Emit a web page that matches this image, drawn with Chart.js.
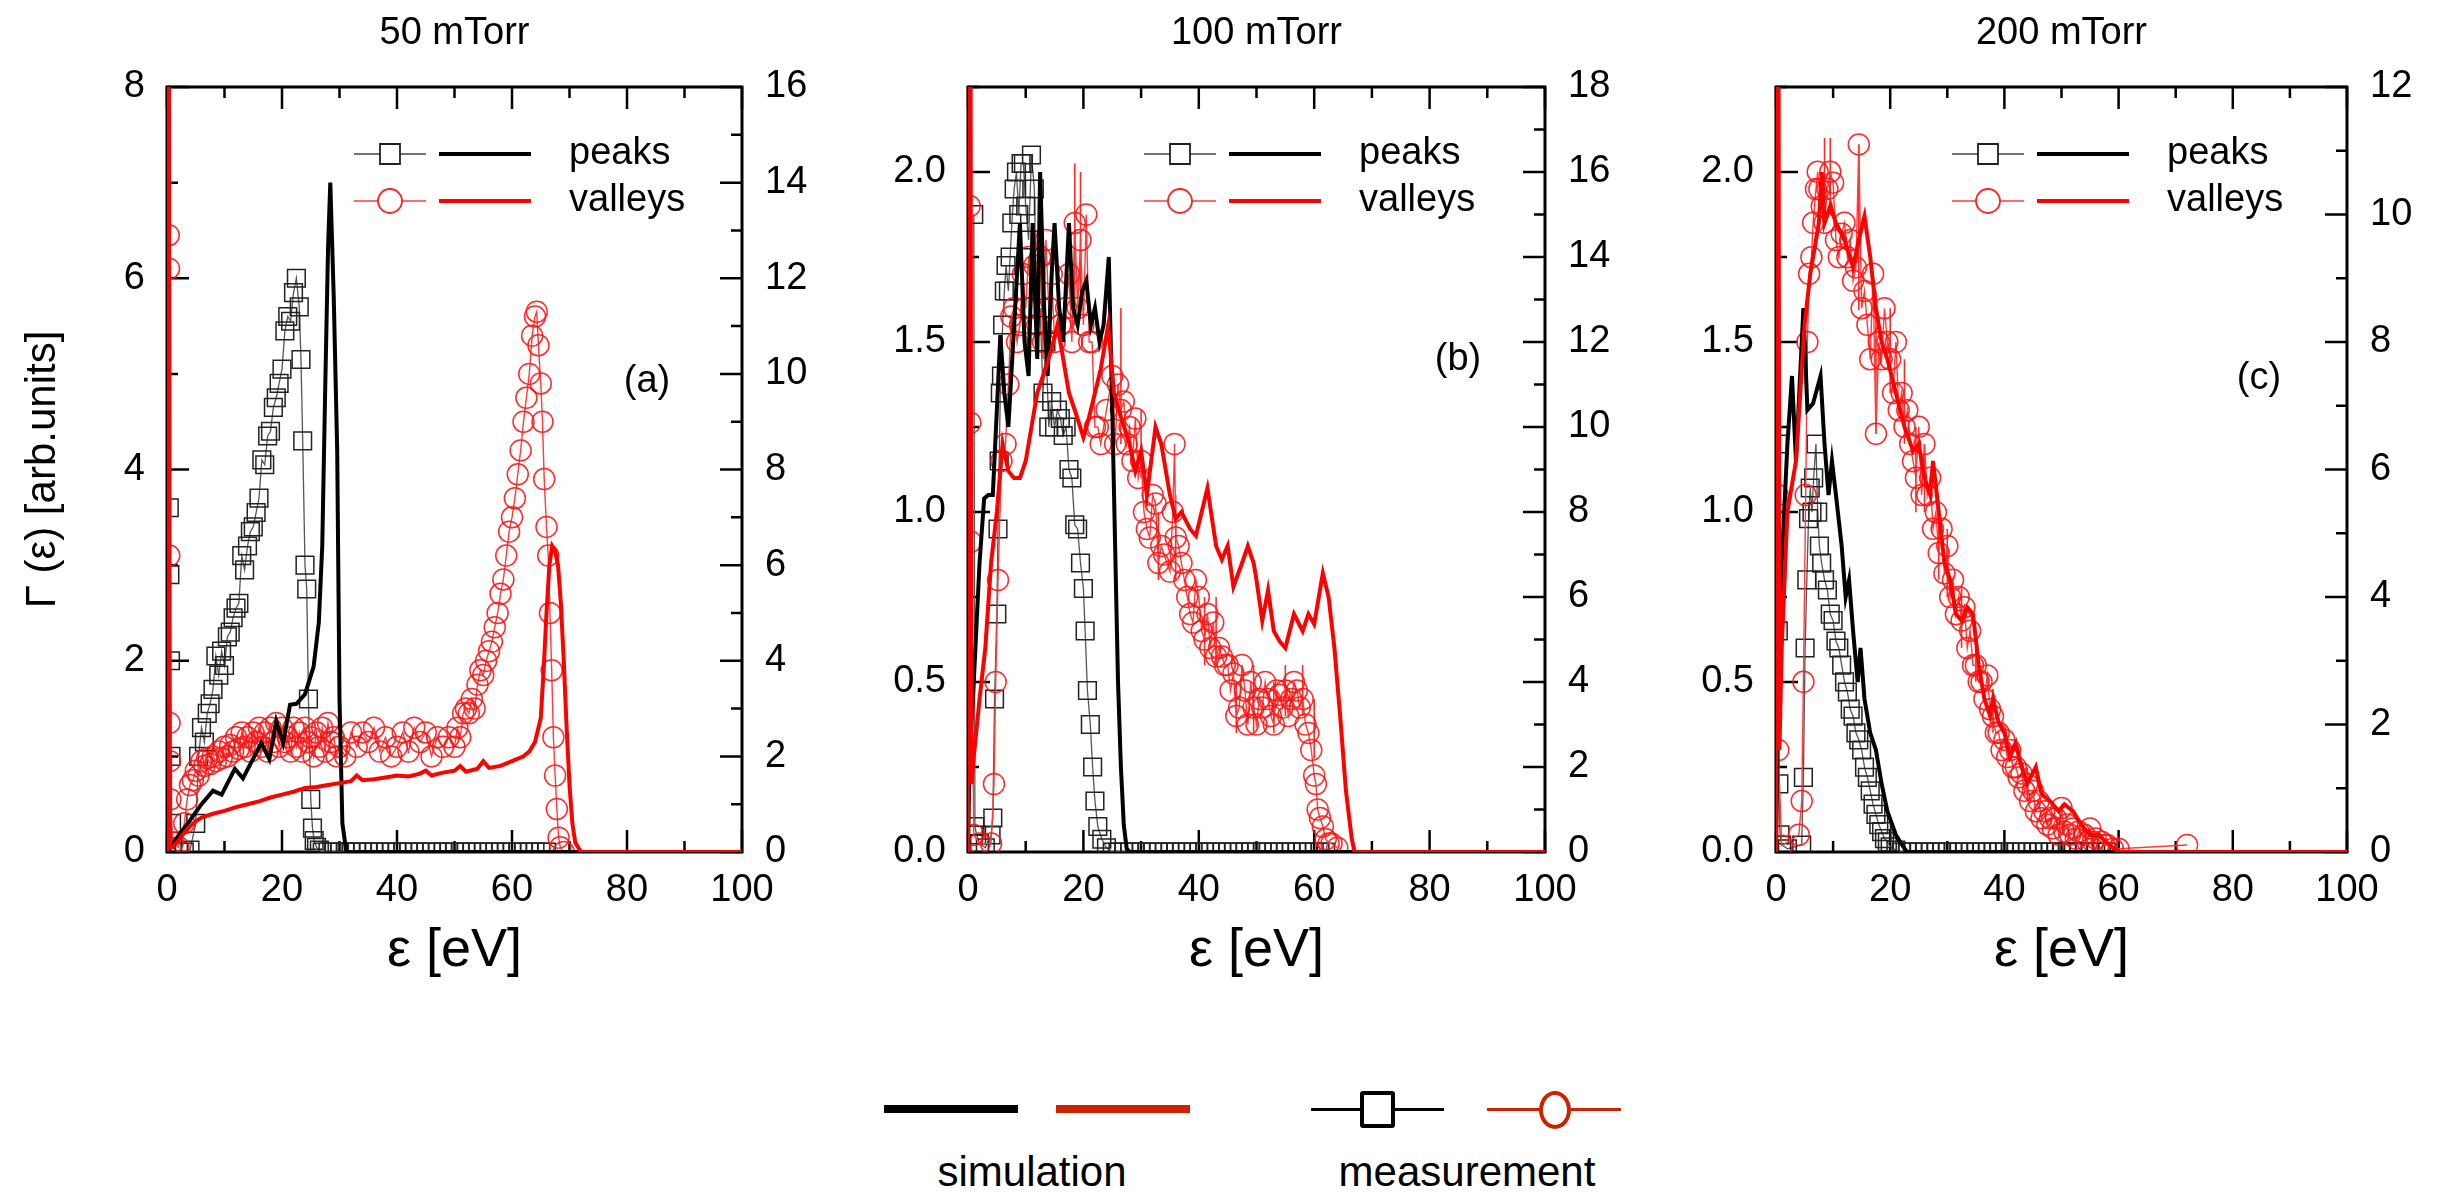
<!DOCTYPE html>
<html>
<head>
<meta charset="utf-8">
<script src="https://cdn.jsdelivr.net/npm/chart.js@4.4.1/dist/chart.umd.min.js"></script>
<style>
  body { margin: 0; background: #fff; width: 2438px; height: 1192px; overflow: hidden; position: relative;
         font-family: "Liberation Sans", Arial, sans-serif; }
  canvas { position: absolute; top: 0; }
  .bar { position: absolute; height: 8px; }
  .thin { position: absolute; height: 3px; }
  .lab { position: absolute; font-size: 42px; line-height: 42px; color: #000; transform: translateX(-50%); white-space: nowrap; }
</style>
</head>
<body>
<canvas id="pa" width="840" height="1000" style="left:0"></canvas>
<canvas id="pb" width="810" height="1000" style="left:840px"></canvas>
<canvas id="pc" width="788" height="1000" style="left:1650px"></canvas>

<!-- bottom legend -->
<div class="bar" style="left:884px;top:1105px;width:134px;background:#000"></div>
<div class="bar" style="left:1056px;top:1105px;width:134px;background:#cc2200"></div>
<div class="thin" style="left:1311px;top:1108px;width:133px;background:#000"></div>
<div style="position:absolute;left:1360px;top:1091px;width:27px;height:29px;border:4px solid #000;border-radius:3px;background:#fff"></div>
<div class="thin" style="left:1487px;top:1108px;width:134px;background:#cc2200"></div>
<div style="position:absolute;left:1539px;top:1091px;width:24px;height:30px;border:4px solid #cc2200;border-radius:50%;background:#fff"></div>
<div class="lab" style="left:1032px;top:1151px">simulation</div>
<div class="lab" style="left:1467px;top:1151px">measurement</div>

<script>
// ---- labels ----
const panelTitles = ['50 mTorr', '100 mTorr', '200 mTorr'];
const panelTags = ['(a)', '(b)', '(c)'];
const legendNames = ['peaks', 'valleys'];
const xTitle = 'ε [eV]';
const yTitle = 'Γ (ε) [arb.units]';

// ---- tick values ----
const xTicks = [0, 20, 40, 60, 80, 100];
const leftTicksA = [0, 2, 4, 6, 8];
const rightTicksA = [0, 2, 4, 6, 8, 10, 12, 14, 16];
const leftTicksBC = [0, 0.5, 1.0, 1.5, 2.0];
const rightTicksB = [0, 2, 4, 6, 8, 10, 12, 14, 16, 18];
const rightTicksC = [0, 2, 4, 6, 8, 10, 12];

// ================= (a) 50 mTorr =================
// simulation (left axis)
const simPeaksAX = [0, 2, 4, 6, 8, 9.5, 11.8, 13.2, 16.4, 17.8, 19, 20.2, 21.4, 22.5, 24, 25.5, 26.4, 27, 27.5, 28, 28.4, 29, 29.6, 30, 30.5, 31.2, 100];
const simPeaksAY = [0, 0.17, 0.33, 0.5, 0.64, 0.6, 0.87, 0.77, 1.14, 0.97, 1.37, 1.14, 1.54, 1.55, 1.65, 1.94, 2.4, 3.2, 4.8, 6.3, 7.0, 5.8, 4.2, 1.6, 0.3, 0, 0];
const simValleysAX = [0, 0.3, 0.5, 1, 2, 3, 4, 5, 6, 8,
  10, 12, 14, 16, 18, 20, 22, 24, 26, 28,
  30, 32, 33, 34, 36, 38, 40, 42, 44, 45,
  46, 48, 50, 51, 52, 54, 55, 56, 58, 60,
  62, 63, 64, 65, 65.5, 66, 66.5, 67, 67.5, 68,
  68.5, 69, 69.5, 70, 70.5, 71, 72, 100];
const simValleysAY = [0, 10, 0.05, 0.05, 0.12, 0.2, 0.27, 0.32, 0.36, 0.4,
  0.43, 0.47, 0.5, 0.53, 0.57, 0.6, 0.63, 0.67, 0.68, 0.7,
  0.72, 0.74, 0.8, 0.75, 0.76, 0.78, 0.8, 0.79, 0.82, 0.85,
  0.8, 0.83, 0.85, 0.9, 0.84, 0.87, 0.95, 0.88, 0.9, 0.95,
  1.0, 1.05, 1.15, 1.4, 1.9, 2.5, 3.0, 3.2, 3.15, 3.0,
  2.6, 2.0, 1.3, 0.7, 0.3, 0.1, 0, 0];
// measurement (right axis)
const measPeaksAX = [0.4, 0.5, 0.6, 0.7, 0.8, 1, 2, 3, 4, 5,
  5.5, 6, 6.5, 7, 7.5, 8, 8.5, 9, 9.5, 10,
  10.5, 11, 11.5, 12, 12.5, 13, 13.5, 14, 14.5, 15,
  15.5, 16, 16.5, 17, 17.5, 18, 18.5, 19, 19.5, 20,
  20.5, 21, 21.5, 22, 22.5, 23, 23.3, 23.6, 24, 24.3,
  24.6, 25, 25.3, 25.6, 26, 26.5,
  27, 28, 29, 30, 31, 32, 33, 34, 35, 36, 37, 38, 39, 40, 41, 42, 43, 44, 45, 46,
  47, 48, 49, 50, 51, 52, 53, 54, 55, 56, 57, 58, 59, 60, 61, 62, 63, 64, 65, 66];
const measPeaksAY = [7.2, 5.8, 4.0, 2.0, 0.6, 0.1, 0, 0, 0.04, 0.6,
  2.0, 2.6, 2.3, 2.9, 3.1, 3.4, 4.1, 3.7, 4.2, 3.9,
  4.5, 4.6, 4.9, 5.1, 5.2, 6.2, 5.9, 6.4, 6.7, 6.8,
  7.1, 7.4, 8.2, 8.1, 8.7, 8.8, 9.3, 9.5, 9.8, 10.1,
  10.9, 11.2, 11.1, 11.7, 12.0, 11.4, 10.3, 8.6, 6.0, 5.5,
  3.2, 1.1, 0.5, 0.24, 0.1, 0.04,
  0, 0, 0, 0, 0, 0, 0, 0, 0, 0, 0, 0, 0, 0, 0, 0, 0, 0, 0, 0,
  0, 0, 0, 0, 0, 0, 0, 0, 0, 0, 0, 0, 0, 0, 0, 0, 0, 0, 0, 0];
const measValleysAX = [0.3, 0.35, 0.4, 0.45, 0.5, 0.6, 1, 2, 3, 3.5,
  4, 4.5, 5, 5.5, 6, 6.5, 7, 7.5, 8, 8.5,
  9, 9.5, 10, 10.5, 11, 11.5, 12, 12.5, 13, 13.5,
  14, 14.5, 15, 15.5, 16, 16.5, 17, 17.5, 18, 18.5,
  19, 19.5, 20, 20.5, 21, 21.5, 22, 22.5, 23, 23.5,
  24, 24.5, 25, 25.5, 26, 26.5, 27, 27.5, 28, 28.5,
  29, 29.5, 30, 31, 32, 33, 34, 35, 36, 37,
  38, 39, 40, 41, 42, 43, 44, 45, 46, 47,
  48, 49, 50, 50.5, 51, 51.5, 52, 52.5, 53, 53.5,
  54, 54.5, 55, 55.5, 56, 56.5, 57, 57.5, 58, 58.5,
  59, 59.5, 60, 60.5, 61, 61.5, 62, 62.5, 63, 63.5,
  64, 64.3, 64.6, 65, 65.3, 65.6, 66, 66.3, 66.6, 66.9,
  67.2, 67.5, 67.8, 68.1, 68.4, 69];
const measValleysAY = [12.9, 12.2, 6.2, 2.7, 1.9, 1.1, 0.2, 0.1, 0.6, 1.1,
  1.4, 1.5, 1.7, 1.6, 1.9, 1.8, 1.96, 1.84, 2.0, 1.9,
  2.1, 1.96, 2.2, 2.0, 2.24, 2.1, 2.4, 2.16, 2.5, 2.2,
  2.4, 2.1, 2.5, 2.3, 2.6, 2.2, 2.5, 2.1, 2.6, 2.3,
  2.7, 2.2, 2.6, 2.3, 2.4, 2.1, 2.6, 2.2, 2.5, 2.1,
  2.6, 2.3, 2.4, 2.0, 2.5, 2.2, 2.6, 2.1, 2.7, 2.3,
  2.4, 2.0, 2.2, 2.0, 2.5, 2.2, 2.5, 2.3, 2.6, 2.1,
  2.4, 2.0, 2.2, 2.5, 2.1, 2.6, 2.3, 2.5, 2.0, 2.4,
  2.2, 2.4, 2.2, 2.6, 2.4, 2.9, 3.0, 2.9, 3.2, 3.0,
  3.5, 3.8, 3.7, 4.0, 4.2, 4.4, 4.7, 5.0, 5.4, 5.7,
  6.2, 6.7, 7.0, 7.4, 7.9, 8.4, 9.0, 9.5, 10.0, 10.8,
  11.2, 11.3, 10.6, 9.8, 9.0, 7.8, 6.8, 6.2, 5.0, 3.8,
  2.4, 1.6, 0.9, 0.3, 0.1, 0];
const errAX = [];
const errALo = [];
const errAHi = [];

// ================= (b) 100 mTorr =================
const simPeaksBX = [0, 0.3, 1, 2, 2.8, 3.5, 4.3, 5, 5.6, 6.3,
  7, 8, 9, 9.8, 10.5, 11.2, 12, 12.5, 13.2, 13.8,
  14.5, 15, 15.8, 16.5, 17.5, 18.2, 19, 19.8, 20.5, 21.3,
  22, 22.8, 23.5, 24.4, 25, 25.5, 26, 26.5, 27, 27.5,
  28, 100];
const simPeaksBY = [0, 0.3, 0.5, 0.85, 1.04, 1.05, 1.05, 1.3, 1.52, 1.35,
  1.25, 1.55, 1.85, 1.5, 1.4, 1.85, 1.45, 2.0, 1.6, 1.4,
  1.7, 1.85, 1.6, 1.5, 1.85, 1.6, 1.55, 1.65, 1.68, 1.55,
  1.6, 1.5, 1.55, 1.75, 1.3, 0.9, 0.5, 0.25, 0.08, 0.01,
  0, 0];
const simValleysBX = [0, 0.4, 0.6, 1, 2, 3, 4, 5, 6, 7,
  8, 9, 10, 11, 12, 13, 14.5, 15.5, 16.5, 17.5,
  18.5, 20, 21, 22, 23, 24.3, 25.3, 26.5, 28, 29,
  30, 31, 32.5, 33.5, 35, 36, 37, 38.5, 39.5, 41.5,
  43, 44, 45, 46, 47.5, 48.5, 49.5, 50, 51, 52,
  53, 54, 55, 56.5, 58, 59, 60, 61.5, 62.5, 63.5,
  64.5, 65.5, 66.5, 67, 100];
const simValleysBY = [0, 3.0, 0.2, 0.28, 0.45, 0.6, 0.85, 1.0, 1.2, 1.12,
  1.1, 1.1, 1.15, 1.25, 1.35, 1.4, 1.48, 1.55, 1.45, 1.35,
  1.3, 1.22, 1.28, 1.35, 1.42, 1.55, 1.35, 1.28, 1.2, 1.12,
  1.18, 1.05, 1.25, 1.2, 1.05, 0.98, 1.0, 0.95, 0.93, 1.07,
  0.9, 0.86, 0.9, 0.78, 0.85, 0.9, 0.85, 0.8, 0.68, 0.77,
  0.65, 0.62, 0.6, 0.7, 0.65, 0.7, 0.67, 0.82, 0.75, 0.6,
  0.4, 0.18, 0.04, 0, 0];
const measPeaksBX = [1.0, 1.2, 1.5, 2, 3, 4, 4.3, 4.6, 5, 5.2,
  5.4, 5.6, 5.8, 6, 6.3, 6.6, 7, 7.3, 7.6, 8,
  8.4, 8.8, 9.2, 9.6, 10, 10.5, 11, 11.5, 12, 12.5,
  13, 13.5, 14, 14.5, 15, 15.5, 16, 16.5, 17, 17.5,
  18, 18.5, 19, 19.5, 20, 20.3, 20.7, 21.2, 21.6, 22,
  22.5, 23.2, 24,
  25, 26, 27, 28, 29, 30, 31, 32, 33, 34, 35, 36, 37, 38, 39, 40, 41, 42, 43,
  44, 45, 46, 47, 48, 49, 50, 51, 52, 53, 54, 55, 56, 57, 58, 59, 60, 61, 62];
const measPeaksBY = [15.0, 0.6, 0.4, 0.2, 0.1, 0.4, 0.8, 3.6, 5.6, 7.6,
  9.2, 10.8, 11.2, 12.4, 13.2, 13.8, 13.2, 14.0, 14.8, 15.6,
  16.0, 15.0, 16.2, 16.2, 15.2, 14.4, 16.4, 15.6, 12.0, 12.8,
  10.8, 12.0, 10.0, 10.6, 10.0, 10.4, 10.2, 9.8, 10.0, 9.0,
  8.8, 7.7, 7.6, 6.8, 6.2, 5.2, 3.8, 3.0, 2.0, 1.2,
  0.6, 0.3, 0.1,
  0, 0, 0, 0, 0, 0, 0, 0, 0, 0, 0, 0, 0, 0, 0, 0, 0, 0, 0,
  0, 0, 0, 0, 0, 0, 0, 0, 0, 0, 0, 0, 0, 0, 0, 0, 0, 0, 0];
const measValleysBX = [0.3, 0.4, 0.5, 1, 2, 4, 4.5, 4.8, 5.2, 5.8,
  6.5, 7, 7.5, 8, 8.5, 9, 9.5, 10, 10.5, 11,
  11.5, 12, 12.5, 13, 13.5, 14, 14.5, 15, 16, 17,
  17.5, 18, 18.5, 19, 19.5, 20, 20.5, 21, 21.5, 22,
  22.5, 23, 24, 25, 25.5, 26, 26.5, 27, 27.5, 28,
  28.5, 29, 29.5, 30, 30.5, 31, 31.5, 32, 32.5, 33,
  33.5, 34, 35, 35.5, 35.8, 36, 36.5, 37, 37.5, 38,
  38.5, 39, 39.5, 40, 40.5, 41, 41.5, 42, 42.5, 43,
  43.5, 44, 44.5, 45, 45.5, 46, 46.5, 47, 47.5, 48,
  48.5, 49, 49.5, 50, 50.5, 51, 51.5, 52, 52.5, 53,
  53.5, 54, 54.5, 55, 55.5, 56, 56.5, 57, 57.5, 58,
  58.5, 59, 59.5, 60, 60.3, 60.6, 61, 61.5, 62, 62.5,
  63, 64];
const measValleysBY = [15.2, 10.1, 7.3, 0.4, 0.2, 0.2, 1.6, 4.0, 6.4, 9.2,
  9.6, 11.0, 12.6, 12.8, 12.0, 12.4, 13.6, 12.8, 14.0, 12.8,
  13.8, 12.4, 14.0, 12.0, 14.4, 12.8, 13.6, 12.0, 12.4, 12.8,
  13.6, 12.0, 14.8, 12.8, 14.4, 12.4, 15.0, 12.0, 12.0, 10.0,
  10.0, 9.6, 10.4, 11.2, 9.6, 11.0, 10.4, 10.6, 9.6, 10.0,
  9.2, 10.2, 8.8, 9.2, 8.0, 7.6, 7.4, 8.4, 8.2, 6.8,
  7.2, 7.0, 6.6, 8.0, 9.6, 7.4, 7.2, 6.8, 6.4, 6.0,
  5.6, 5.4, 6.4, 6.0, 5.2, 5.0, 5.6, 4.8, 5.4, 4.6,
  4.8, 4.6, 4.4, 4.4, 3.8, 4.2, 3.2, 3.4, 4.4, 3.8,
  3.0, 4.0, 3.4, 3.0, 3.6, 3.4, 4.0, 3.6, 3.2, 3.0,
  3.8, 3.7, 3.4, 3.8, 3.2, 3.6, 4.0, 3.8, 3.4, 3.6,
  3.0, 2.8, 2.4, 1.8, 1.6, 1.0, 0.8, 0.6, 0.3, 0.2,
  0.2, 0.1];
// error bars on the valley measurement (right axis)
const errBX = [13, 18.5, 19.5, 26.5, 30, 33, 36, 41, 43, 46.5, 49.5, 53, 55, 58, 60];
const errBLo = [11.6, 12.4, 12.8, 9.6, 8.8, 6.4, 6.4, 4.4, 4.4, 2.8, 2.8, 2.8, 3.2, 3.2, 2.2];
const errBHi = [14.0, 16.2, 16.0, 12.8, 10.4, 8.0, 8.4, 6.0, 6.0, 4.0, 4.4, 4.0, 4.4, 4.4, 3.6];

// ================= (c) 200 mTorr =================
const simPeaksCX = [0, 0.5, 1, 2, 2.8, 3.5, 4.8, 5.5, 6.5, 7.8,
  8.5, 9.2, 9.8, 10.5, 11.5, 12.2, 12.8, 13.5, 14.3, 14.8,
  15.5, 16.5, 17.5, 18.5, 19.5, 21, 22.5, 23, 100];
const simPeaksCY = [0, 0.6, 0.85, 1.2, 1.4, 1.15, 1.6, 1.3, 1.32, 1.4,
  1.2, 1.05, 1.15, 1.05, 0.9, 0.75, 0.8, 0.65, 0.5, 0.6,
  0.45, 0.35, 0.3, 0.2, 0.12, 0.05, 0.01, 0, 0];
const simValleysCX = [0, 0.4, 0.6, 1, 2, 3.5, 5, 6, 7.5, 8,
  8.5, 9.5, 10.5, 12, 13.5, 14.5, 15.5, 16.5, 17.5, 18.5,
  19.5, 21, 22.5, 24, 25, 26, 27, 27.5, 28.5, 29.5,
  30.5, 31.5, 32.5, 33.5, 34.5, 35.5, 36.5, 37.5, 38, 39,
  40, 41, 42, 43, 44, 45.5, 46.5, 48, 49.5, 50.5,
  52, 53.5, 55, 56.5, 58.5, 60, 100];
const simValleysCY = [0, 3.0, 0.3, 0.6, 1.0, 1.15, 1.55, 1.7, 1.85, 2.0,
  1.85, 1.9, 1.85, 1.8, 1.72, 1.8, 1.87, 1.75, 1.6, 1.5,
  1.45, 1.35, 1.25, 1.18, 1.2, 1.1, 1.05, 1.15, 1.0, 0.85,
  0.8, 0.7, 0.68, 0.72, 0.7, 0.55, 0.45, 0.4, 0.45, 0.38,
  0.35, 0.28, 0.32, 0.25, 0.2, 0.25, 0.17, 0.15, 0.12, 0.14,
  0.12, 0.08, 0.05, 0.05, 0.02, 0, 0];
const measPeaksCX = [0.3, 0.4, 0.5, 0.7, 1, 2, 4.5, 4.8, 5.1, 5.4,
  5.7, 6, 6.3, 6.6, 7, 7.3, 7.6, 8, 8.5, 9,
  9.5, 10, 10.5, 11, 11.5, 12, 12.5, 13, 13.5, 14,
  14.5, 15, 15.5, 16, 16.5, 17, 17.5, 18, 18.5, 19,
  19.5, 20, 21,
  22, 23, 24, 25, 26, 27, 28, 29, 30, 31, 32, 33, 34, 35, 36, 37, 38, 39, 40,
  41, 42, 43, 44, 45, 46, 47, 48, 49, 50, 51, 52, 53, 54, 55, 56, 57, 58];
const measPeaksCY = [6.4, 3.47, 1.07, 0.27, 0.11, 0.05, 0.11, 1.17, 3.2, 4.27,
  5.23, 5.71, 5.33, 5.87, 6.4, 5.33, 4.8, 4.53, 4.27, 4.11,
  3.73, 3.63, 3.31, 3.2, 2.93, 2.67, 2.51, 2.24, 2.13, 1.87,
  1.76, 1.6, 1.33, 1.17, 0.96, 0.75, 0.59, 0.43, 0.32, 0.21,
  0.16, 0.08, 0.03,
  0, 0, 0, 0, 0, 0, 0, 0, 0, 0, 0, 0, 0, 0, 0, 0, 0, 0, 0,
  0, 0, 0, 0, 0, 0, 0, 0, 0, 0, 0, 0, 0, 0, 0, 0, 0, 0];
const measValleysCX = [0.3, 0.4, 1, 4, 4.5, 4.8, 5.2, 5.5, 5.8, 6.2,
  6.5, 7, 7.3, 7.6, 8, 8.5, 9, 9.5, 10, 10.5,
  11, 11.5, 12, 12.5, 13, 13.5, 14, 14.5, 15, 15.5,
  16, 16.5, 17, 17.5, 18, 18.5, 19, 19.5, 20, 20.5,
  21, 21.5, 22, 22.5, 23, 23.5, 24, 24.5, 25, 25.5,
  26, 26.5, 27, 27.5, 28, 28.5, 29, 29.5, 30, 30.5,
  31, 31.5, 32, 32.5, 33, 33.5, 34, 34.5, 35, 35.5,
  36, 36.5, 37, 37.5, 38, 38.5, 39, 39.5, 40, 40.5,
  41, 41.5, 42, 42.5, 43, 43.5, 44, 44.5, 45, 45.5,
  46, 46.5, 47, 47.5, 48, 48.5, 49, 49.5, 50, 50.5,
  51, 51.5, 52, 52.5, 53, 54, 54.5, 55, 55.5, 56,
  57, 57.5, 58, 59, 60, 72];
const measValleysCY = [5.6, 1.6, 0.1, 0.27, 0.8, 2.67, 5.6, 8.0, 9.07, 9.33,
  9.87, 10.4, 10.67, 10.4, 10.13, 9.87, 10.4, 10.67, 10.5, 9.6,
  9.33, 9.7, 9.87, 9.33, 9.6, 8.96, 9.17, 11.1, 8.53, 8.8,
  8.27, 7.73, 9.07, 6.56, 8.0, 7.73, 8.53, 8.0, 7.73, 7.2,
  8.0, 6.93, 7.2, 6.67, 6.93, 6.4, 6.13, 5.87, 6.67, 5.6,
  6.4, 5.6, 5.87, 5.07, 5.33, 4.69, 5.07, 4.37, 4.8, 4.0,
  4.27, 3.73, 4.0, 3.63, 3.84, 3.2, 3.47, 2.93, 2.93, 2.67,
  2.67, 2.4, 2.77, 2.24, 2.13, 1.87, 1.87, 1.6, 1.76, 1.49,
  1.6, 1.33, 1.33, 1.17, 1.23, 0.96, 1.07, 0.8, 0.96, 0.64,
  0.8, 0.53, 0.64, 0.43, 0.53, 0.37, 0.53, 0.27, 0.69, 0.32,
  0.43, 0.27, 0.37, 0.21, 0.32, 0.27, 0.16, 0.37, 0.16, 0.21,
  0.16, 0.11, 0.11, 0.05, 0.05, 0.11];
const errCX = [8.5, 9.5, 14.5, 17.5, 20, 22.5, 24.5, 26, 28.5, 30, 32.5, 35, 38, 44];
const errCLo = [9.9, 10.1, 8.5, 6.56, 7.2, 6.4, 5.33, 5.33, 4.27, 4.0, 3.2, 2.67, 1.87, 0.8];
const errCHi = [11.2, 11.2, 11.1, 8.8, 8.53, 7.73, 6.67, 6.4, 5.33, 5.07, 4.16, 3.47, 2.56, 1.33];

// ---------------------------------------------------------------
const FONT = '"Liberation Sans", Arial, sans-serif';
const RED = '#ff0000';
Chart.defaults.font.family = FONT;
Chart.defaults.color = '#000';

const pts = (xs, ys) => xs.map((x, i) => ({ x: x, y: ys[i] }));
const mids = arr => arr.slice(1).map((v, i) => (v + arr[i]) / 2).concat([arr[arr.length - 1] + (arr[1] - arr[0]) / 2]);

// frame, inward ticks, error bars, titles and the small legend inside each panel
const panelDecor = {
  id: 'panelDecor',
  beforeDatasetsDraw(chart, args, o) {
    const { ctx, chartArea: a } = chart;
    const sx = chart.scales.x, sl = chart.scales.y, sr = chart.scales.y1;
    ctx.save();
    ctx.strokeStyle = '#000';
    ctx.lineWidth = 2.5;
    ctx.beginPath();
    const xt = (vals, len) => vals.forEach(v => {
      const p = sx.getPixelForValue(v);
      if (p < a.left - 1 || p > a.right + 1) return;
      ctx.moveTo(p, a.bottom); ctx.lineTo(p, a.bottom - len);
      ctx.moveTo(p, a.top); ctx.lineTo(p, a.top + len);
    });
    const lt = (vals, len) => vals.forEach(v => {
      const p = sl.getPixelForValue(v);
      if (p < a.top - 1) return;
      ctx.moveTo(a.left, p); ctx.lineTo(a.left + len, p);
    });
    const rt = (vals, len) => vals.forEach(v => {
      const p = sr.getPixelForValue(v);
      if (p < a.top - 1) return;
      ctx.moveTo(a.right, p); ctx.lineTo(a.right - len, p);
    });
    xt(xTicks, 22); xt(mids(xTicks), 11);
    lt(o.left, 22); lt(mids(o.left), 11);
    rt(o.right, 22); rt(mids(o.right), 11);
    ctx.stroke();
    ctx.lineWidth = 3;
    ctx.strokeRect(a.left, a.top, a.right - a.left, a.bottom - a.top);

    // error bars of the valley measurement
    ctx.strokeStyle = 'rgba(255,20,20,0.9)';
    ctx.lineWidth = 1.6;
    ctx.beginPath();
    o.errX.forEach((v, i) => {
      const px = sx.getPixelForValue(v);
      ctx.moveTo(px, sr.getPixelForValue(o.errLo[i]));
      ctx.lineTo(px, sr.getPixelForValue(o.errHi[i]));
    });
    ctx.stroke();
    ctx.restore();
  },
  afterDatasetsDraw(chart, args, o) {
    const { ctx, chartArea: a } = chart;
    ctx.save();
    ctx.fillStyle = '#000';
    ctx.font = '38px ' + FONT;
    ctx.textAlign = 'center';
    ctx.textBaseline = 'middle';
    ctx.fillText(o.title, (a.left + a.right) / 2, 34);
    ctx.fillText(o.tag, a.left + o.tagX, a.top + o.tagY);

    const x0 = a.left + o.legX;
    const rows = [
      { y: a.top + 67, thin: '#444', mark: '#222', thick: '#000', shape: 'rect', text: legendNames[0] },
      { y: a.top + 114, thin: '#ff3b3b', mark: '#ff2020', thick: RED, shape: 'circle', text: legendNames[1] }
    ];
    rows.forEach(r => {
      ctx.strokeStyle = r.thin; ctx.lineWidth = 1.5;
      ctx.beginPath(); ctx.moveTo(x0, r.y); ctx.lineTo(x0 + 72, r.y); ctx.stroke();
      ctx.fillStyle = '#fff'; ctx.strokeStyle = r.mark; ctx.lineWidth = 1.8;
      ctx.beginPath();
      if (r.shape === 'rect') ctx.rect(x0 + 26, r.y - 10, 20, 20);
      else ctx.arc(x0 + 36, r.y, 12, 0, Math.PI * 2);
      ctx.fill(); ctx.stroke();
      ctx.strokeStyle = r.thick; ctx.lineWidth = 4;
      ctx.beginPath(); ctx.moveTo(x0 + 85, r.y); ctx.lineTo(x0 + 177, r.y); ctx.stroke();
      ctx.fillStyle = '#000'; ctx.textAlign = 'left';
      ctx.fillText(r.text, x0 + 215, r.y);
    });
    ctx.restore();
  }
};

function makePanel(id, p) {
  const setTicks = vals => s => { s.ticks = vals.map(v => ({ value: v })); };
  return new Chart(document.getElementById(id), {
    type: 'line',
    data: {
      datasets: [
        { label: 'valleys simulation', data: pts(p.svx, p.svy), yAxisID: 'y', borderColor: RED, borderWidth: 4, pointRadius: 0, tension: 0, order: 0 },
        { label: 'peaks simulation', data: pts(p.spx, p.spy), yAxisID: 'y', borderColor: '#000', borderWidth: 4, pointRadius: 0, tension: 0, order: 1 },
        { label: 'valleys measurement', data: pts(p.mvx, p.mvy), yAxisID: 'y1', borderColor: '#ff3b3b', borderWidth: 1.4,
          pointStyle: 'circle', pointRadius: 10.5, pointBorderColor: 'rgba(255,20,20,0.9)', pointBackgroundColor: 'rgba(255,255,255,0)', pointBorderWidth: 1.5, order: 2 },
        { label: 'peaks measurement', data: pts(p.mpx, p.mpy), yAxisID: 'y1', borderColor: '#555', borderWidth: 1.3,
          pointStyle: 'rect', pointRadius: 12.5, pointBorderColor: '#222', pointBackgroundColor: 'rgba(255,255,255,0)', pointBorderWidth: 1.5, order: 3 }
      ]
    },
    options: {
      responsive: false,
      animation: false,
      events: [],
      layout: { padding: { top: 87, left: 0, right: 0, bottom: 0 } },
      plugins: {
        legend: { display: false },
        tooltip: { enabled: false },
        panelDecor: { title: p.title, tag: p.tag, tagX: p.tagX, tagY: p.tagY, legX: p.legX, left: p.leftTicks, right: p.rightTicks,
                      errX: p.ex, errLo: p.elo, errHi: p.ehi }
      },
      scales: {
        x: {
          type: 'linear', min: 0, max: 100,
          afterBuildTicks: setTicks(xTicks),
          afterFit: s => { s.height = 148; },
          grid: { display: false, drawTicks: false }, border: { display: false },
          ticks: { font: { size: 38 }, padding: 16, maxRotation: 0, autoSkip: false },
          title: { display: true, text: xTitle, font: { size: 54 }, padding: { top: 0, bottom: 16 } }
        },
        y: {
          position: 'left', min: 0, max: p.leftMax,
          afterBuildTicks: setTicks(p.leftTicks),
          afterFit: s => { s.width = p.leftW; },
          grid: { display: false, drawTicks: false }, border: { display: false },
          ticks: { font: { size: 38 }, padding: 22, callback: v => v.toFixed(p.dec) },
          title: { display: p.yTitle, text: yTitle, font: { size: 42 }, padding: { top: 18, bottom: 0 } }
        },
        y1: {
          position: 'right', min: 0, max: p.rightMax,
          afterBuildTicks: setTicks(p.rightTicks),
          afterFit: s => { s.width = p.rightW; },
          grid: { display: false, drawTicks: false }, border: { display: false },
          ticks: { font: { size: 38 }, padding: 23, callback: v => String(v) }
        }
      }
    },
    plugins: [panelDecor]
  });
}

makePanel('pa', {
  title: panelTitles[0], tag: panelTags[0], tagX: 480, tagY: 295, legX: 187, yTitle: true,
  leftMax: 8, rightMax: 16, leftTicks: leftTicksA, rightTicks: rightTicksA, dec: 0, leftW: 167, rightW: 98,
  spx: simPeaksAX, spy: simPeaksAY, svx: simValleysAX, svy: simValleysAY,
  mpx: measPeaksAX, mpy: measPeaksAY, mvx: measValleysAX, mvy: measValleysAY,
  ex: errAX, elo: errALo, ehi: errAHi
});
makePanel('pb', {
  title: panelTitles[1], tag: panelTags[1], tagX: 490, tagY: 273, legX: 176, yTitle: false,
  leftMax: 2.25, rightMax: 18, leftTicks: leftTicksBC, rightTicks: rightTicksB, dec: 1, leftW: 128, rightW: 105,
  spx: simPeaksBX, spy: simPeaksBY, svx: simValleysBX, svy: simValleysBY,
  mpx: measPeaksBX, mpy: measPeaksBY, mvx: measValleysBX, mvy: measValleysBY,
  ex: errBX, elo: errBLo, ehi: errBHi
});
makePanel('pc', {
  title: panelTitles[2], tag: panelTags[2], tagX: 483, tagY: 292, legX: 176, yTitle: false,
  leftMax: 2.25, rightMax: 12, leftTicks: leftTicksBC, rightTicks: rightTicksC, dec: 1, leftW: 126, rightW: 91,
  spx: simPeaksCX, spy: simPeaksCY, svx: simValleysCX, svy: simValleysCY,
  mpx: measPeaksCX, mpy: measPeaksCY, mvx: measValleysCX, mvy: measValleysCY,
  ex: errCX, elo: errCLo, ehi: errCHi
});
</script>
</body>
</html>
